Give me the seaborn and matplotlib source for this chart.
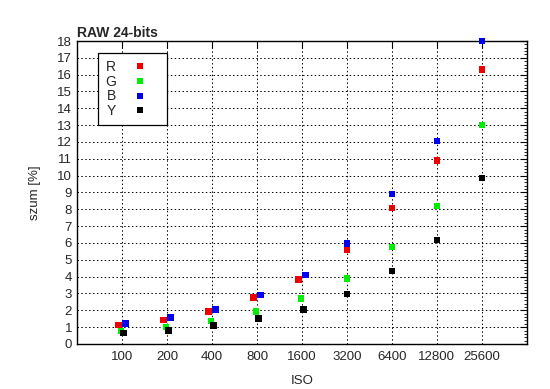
import numpy as np
import pandas as pd
import matplotlib
matplotlib.use("Agg")
import matplotlib.pyplot as plt
import seaborn as sns
from matplotlib.ticker import MultipleLocator

# data
iso = [100, 200, 400, 800, 1600, 3200, 6400, 12800, 25600]
iso_labels = [str(v) for v in iso]
szum_r = [1.13, 1.43, 1.92, 2.76, 3.84, 5.57, 8.08, 10.89, 16.3]
szum_g = [0.77, 1.01, 1.38, 1.94, 2.69, 3.88, 5.75, 8.20, 13.0]
szum_b = [1.23, 1.56, 2.06, 2.91, 4.10, 5.98, 8.91, 12.06, 18.0]
szum_y = [0.64, 0.79, 1.09, 1.50, 2.06, 2.97, 4.34, 6.18, 9.85]

kanaly = ["R", "G", "B", "Y"]
kolory = {"R": "#ee0000", "G": "#00ee00", "B": "#0000ee", "Y": "#000000"}
# small horizontal shift (log2 units) so R and B don't sit on each other at low ISO
przesuniecie = {"R": -0.08, "G": -0.02, "B": 0.08, "Y": 0.03}

sns.set_style("white")
plt.rcParams["font.family"] = ["Liberation Sans", "DejaVu Sans"]

rows = []
for k, vals in zip(kanaly, [szum_r, szum_g, szum_b, szum_y]):
    for i, (x, v) in enumerate(zip(iso, vals)):
        dx = przesuniecie[k] if i < 5 else 0.0
        rows.append({"kanal": k, "iso": x * 2 ** dx, "szum": v})
df = pd.DataFrame(rows)

fig = plt.figure(figsize=(5.5, 3.89), dpi=100)
ax = fig.add_axes([0.14, 0.1157, 0.818, 0.7789])

sns.scatterplot(data=df, x="iso", y="szum", hue="kanal", palette=kolory,
                marker="s", s=22, linewidth=0, ax=ax, clip_on=False, zorder=3)

ax.set_xscale("log", base=2)
ax.set_xlim(50, 51200)
ax.set_ylim(0, 18)
ax.set_xticks(iso)
ax.set_xticklabels(iso_labels)
ax.xaxis.set_minor_locator(plt.NullLocator())
ax.yaxis.set_major_locator(MultipleLocator(1))
ax.yaxis.set_minor_locator(MultipleLocator(0.2))

ax.grid(True, which="major", color="black", linestyle=(0, (1.5, 2.5)), linewidth=0.7)
ax.tick_params(which="both", direction="in", top=True, right=True, labelsize=9.5,
               color="black")
ax.tick_params(axis="x", pad=5)
ax.tick_params(which="major", length=5, width=0.8)
ax.tick_params(which="minor", length=2.5, width=0.6)
for s in ax.spines.values():
    s.set_color("black")
    s.set_linewidth(1.0)

ax.set_xlabel("ISO", fontsize=9.5, labelpad=9)
ax.set_ylabel("szum [%]", fontsize=9.5, labelpad=12)
ax.set_title("RAW 24-bits", loc="left", fontsize=10, fontweight="bold", pad=3)

leg = ax.legend(loc="upper left", bbox_to_anchor=(0.047, 0.96), borderaxespad=0,
                markerfirst=False, fontsize=10, labelspacing=0.05, handletextpad=0.2,
                borderpad=0.5, fancybox=False, framealpha=1, edgecolor="black",
                title=None, handlelength=3.0, markerscale=0.85)
leg.get_frame().set_linewidth(0.9)

fig.savefig("out.png", dpi=100)
